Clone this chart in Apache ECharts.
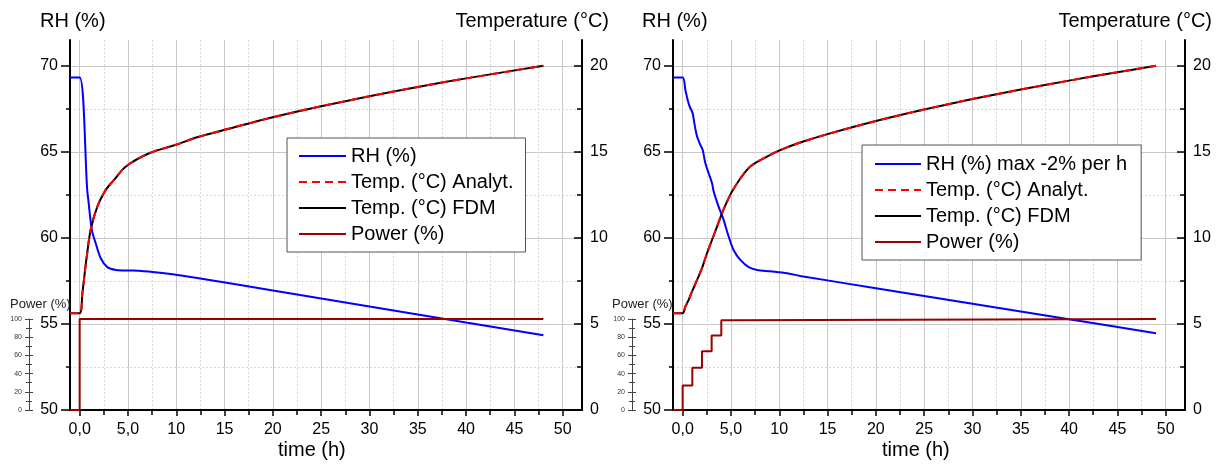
<!DOCTYPE html>
<html>
<head>
<meta charset="utf-8">
<script src="https://cdn.jsdelivr.net/npm/echarts@6/dist/echarts.min.js"></script>
<style>
  html, body { margin: 0; padding: 0; background: #fff; }
  #chart { width: 1222px; height: 464px; }
</style>
</head>
<body>
<div id="chart"></div>
<script>
  // tick values
  const xTicks = [0, 5, 10, 15, 20, 25, 30, 35, 40, 45, 50]
  const rhTicks = [50, 55, 60, 65, 70]
  const tempTicks = [0, 5, 10, 15, 20]

  // left panel: full power from t = 0
  const rhTimeL = [-1, 0, 0.78, 0.9, 1.25, 1.66, 2.18, 2.87, 3.74, 5.47, 7.55, 9.62, 12, 20, 30, 40, 48]
  const rhL = [69.32, 69.32, 62.8, 62.2, 60.5, 59.69, 58.82, 58.3, 58.14, 58.1, 58.02, 57.89, 57.69, 56.95, 56.02, 55.09, 54.35]
  const tempTimeL = [-1, 0, 0.28, 0.69, 1.14, 1.83, 2.7, 3.56, 4.78, 7.2, 9.97, 12.05, 15, 20, 25, 30, 35, 40, 48]
  const tempL = [5.62, 5.62, 6.78, 8.72, 10.47, 11.82, 12.79, 13.37, 14.15, 14.92, 15.41, 15.83, 16.28, 17.01, 17.65, 18.23, 18.77, 19.27, 20.0]
  const powerTimeL = [-1, 0, 0, 48]
  const powerL = [0, 0, 100, 100]

  // right panel: RH limited to -2% per h, power ramped
  const rhTimeR = [-1, 0, 0.28, 0.52, 0.72, 1.03, 1.21, 1.49, 1.83, 2.07, 2.35, 2.69, 3.04, 3.21, 3.72, 4.24, 4.76, 5.27, 5.97, 6.83, 7.69, 9.07, 10.8, 12.17, 20, 30, 40, 49]
  const rhR = [69.32, 69.32, 68.6, 68.02, 67.64, 67.25, 66.67, 65.89, 65.41, 65.12, 64.34, 63.76, 63.18, 62.7, 61.82, 61.05, 60.08, 59.3, 58.72, 58.3, 58.14, 58.06, 57.95, 57.79, 57.08, 56.18, 55.27, 54.46]
  const tempTimeR = [-1, 0, 0.28, 0.62, 0.97, 1.49, 2, 2.52, 3.04, 3.56, 4.07, 4.59, 5.11, 5.97, 7, 8.73, 10.1, 12.17, 15, 20, 25, 30, 35, 40, 45, 49]
  const tempR = [5.62, 5.62, 6.01, 6.4, 6.88, 7.56, 8.24, 9.11, 9.88, 10.66, 11.43, 12.11, 12.69, 13.45, 14.15, 14.73, 15.1, 15.54, 16.03, 16.79, 17.46, 18.07, 18.62, 19.14, 19.63, 20.0]
  const powerTimeR = [-1, 0, 1, 2, 3, 4, 5, 49]
  const powerR = [0, 27, 46.5, 64.5, 82, 98.5, 100, 100]

  const FONT = '"Liberation Sans", Arial, sans-serif'

  function zip (xs, ys) {
    return xs.map((x, i) => [x, ys[i]])
  }

  function mainX (gi) {
    return {
      type: 'value', gridIndex: gi, min: -1, max: 52, splitNumber: 10,
      axisLine: { onZero: false, lineStyle: { color: '#000', width: 2 } },
      axisTick: { show: true, customValues: xTicks, length: 6, lineStyle: { color: '#000', width: 1.5 } },
      minorTick: { show: true, splitNumber: 2, length: 5, lineStyle: { color: '#000', width: 1.5 } },
      axisLabel: {
        customValues: xTicks, margin: 12, color: '#000', fontSize: 16, fontFamily: FONT,
        formatter: v => v < 10 ? v.toFixed(1).replace('.', ',') : String(v),
      },
      splitLine: { show: true, lineStyle: { color: '#c8c8c8', width: 1 } },
      minorSplitLine: { show: true, lineStyle: { color: '#d8d8d8', width: 1, type: [2, 2] } },
    }
  }

  function insetX (gi) {
    return { type: 'value', gridIndex: gi, min: -1, max: 52, show: false }
  }

  function rhY (gi) {
    return {
      type: 'value', gridIndex: gi, position: 'left', min: 50, max: 71.5, interval: 5,
      axisLine: { show: true, onZero: false, lineStyle: { color: '#000', width: 2 } },
      axisTick: { show: true, customValues: rhTicks, length: 9, lineStyle: { color: '#000', width: 1.5 } },
      minorTick: { show: true, splitNumber: 2, length: 4, lineStyle: { color: '#000', width: 1.5 } },
      axisLabel: { customValues: rhTicks, margin: 12, color: '#000', fontSize: 16, fontFamily: FONT },
      splitLine: { show: true, lineStyle: { color: '#c8c8c8', width: 1 } },
      minorSplitLine: { show: true, lineStyle: { color: '#d8d8d8', width: 1, type: [2, 2] } },
    }
  }

  function tempY (gi) {
    return {
      type: 'value', gridIndex: gi, position: 'right', min: 0, max: 21.5, interval: 5,
      axisLine: { show: true, onZero: false, lineStyle: { color: '#000', width: 2 } },
      axisTick: { show: true, inside: true, customValues: tempTicks, length: 8, lineStyle: { color: '#000', width: 1.5 } },
      minorTick: { show: true, splitNumber: 2, length: 5, lineStyle: { color: '#000', width: 1.5 } },
      axisLabel: { customValues: tempTicks, margin: 8, color: '#000', fontSize: 16, fontFamily: FONT },
      splitLine: { show: false },
    }
  }

  function powerY (gi, inside) {
    return {
      type: 'value', gridIndex: gi, position: 'left', offset: 41, min: 0, max: 100, interval: 20,
      axisLine: { show: !inside, onZero: false, lineStyle: { color: '#444', width: 1 } },
      axisTick: { show: true, inside: inside, length: 4, lineStyle: { color: '#444', width: 1 } },
      minorTick: { show: true, splitNumber: 2, length: 3, lineStyle: { color: '#444', width: 1 } },
      axisLabel: { show: !inside, margin: 7, color: '#333', fontSize: 7, fontFamily: FONT },
      splitLine: { show: false },
    }
  }

  function lineSeries (name, xi, yi, data, color, type, extra) {
    return Object.assign({
      name: name, type: 'line', xAxisIndex: xi, yAxisIndex: yi, data: data,
      symbol: 'none', color: color,
      lineStyle: { color: color, width: 2, type: type || 'solid' },
    }, extra || {})
  }

  const curve = { smooth: 0.3 }

  const titleStyle = { color: '#000', fontSize: 20, fontWeight: 'normal', fontFamily: FONT, lineHeight: 20 }
  const powerTitleStyle = { color: '#222', fontSize: 13, fontWeight: 'normal', fontFamily: FONT, lineHeight: 13 }
  const legendText = { color: '#000', fontSize: 20, fontFamily: FONT, lineHeight: 20 }

  const option = {
    animation: false,
    backgroundColor: '#fff',
    title: [
      { text: 'RH (%)', left: 40, top: 11, padding: 0, textStyle: titleStyle },
      { text: 'Temperature (°C)', right: 613, top: 11, padding: 0, textStyle: titleStyle },
      { text: 'RH (%)', left: 642, top: 11, padding: 0, textStyle: titleStyle },
      { text: 'Temperature (°C)', right: 10, top: 11, padding: 0, textStyle: titleStyle },
      { text: 'time (h)', left: 278, top: 440, padding: 0, textStyle: titleStyle },
      { text: 'time (h)', left: 882, top: 440, padding: 0, textStyle: titleStyle },
      { text: 'Power (%)', left: 10, top: 298, padding: 0, textStyle: powerTitleStyle },
      { text: 'Power (%)', left: 612, top: 298, padding: 0, textStyle: powerTitleStyle },
    ],
    legend: [
      {
        data: ['RH (%)', 'Temp. (°C) Analyt.', 'Temp. (°C) FDM', 'Power (%)'],
        orient: 'vertical', left: 287, top: 138, padding: [8, 12, 8, 11],
        itemWidth: 47, itemHeight: 14, itemGap: 6, selectedMode: false,
        itemStyle: { opacity: 0 },
        borderColor: '#555', borderWidth: 1, backgroundColor: '#fff', textStyle: legendText,
      },
      {
        data: ['RH (%) max -2% per h', 'Temp. (°C) Analyt.', 'Temp. (°C) FDM', 'Power (%)'],
        orient: 'vertical', left: 862, top: 145, padding: [9, 14, 8, 12],
        itemWidth: 46, itemHeight: 14, itemGap: 6, selectedMode: false,
        itemStyle: { opacity: 0 },
        borderColor: '#555', borderWidth: 1, backgroundColor: '#fff', textStyle: legendText,
      },
    ],
    grid: [
      { left: 70, top: 40, width: 512, height: 370 },
      { left: 70, top: 319, width: 512, height: 91 },
      { left: 673, top: 40, width: 512, height: 370 },
      { left: 673, top: 319, width: 512, height: 91 },
    ],
    xAxis: [mainX(0), insetX(1), mainX(2), insetX(3)],
    yAxis: [
      rhY(0), tempY(0), powerY(1, false), powerY(1, true),
      rhY(2), tempY(2), powerY(3, false), powerY(3, true),
    ],
    series: [
      lineSeries('RH (%)', 0, 0, zip(rhTimeL, rhL), '#0000ff', 'solid', curve),
      lineSeries('Temp. (°C) FDM', 0, 1, zip(tempTimeL, tempL), '#000000', 'solid', curve),
      lineSeries('Temp. (°C) Analyt.', 0, 1, zip(tempTimeL, tempL), '#ff0000', [8, 5], curve),
      lineSeries('Power (%)', 1, 2, zip(powerTimeL, powerL), '#990000', 'solid', { clip: false }),

      lineSeries('RH (%) max -2% per h', 2, 4, zip(rhTimeR, rhR), '#0000ff', 'solid', curve),
      lineSeries('Temp. (°C) FDM', 2, 5, zip(tempTimeR, tempR), '#000000', 'solid', curve),
      lineSeries('Temp. (°C) Analyt.', 2, 5, zip(tempTimeR, tempR), '#ff0000', [8, 5], curve),
      lineSeries('Power (%)', 3, 6, zip(powerTimeR, powerR), '#990000', 'solid', { clip: false, step: 'end' }),
    ],
  }

  const chart = echarts.init(document.getElementById('chart'))
  chart.setOption(option)
</script>
</body>
</html>
